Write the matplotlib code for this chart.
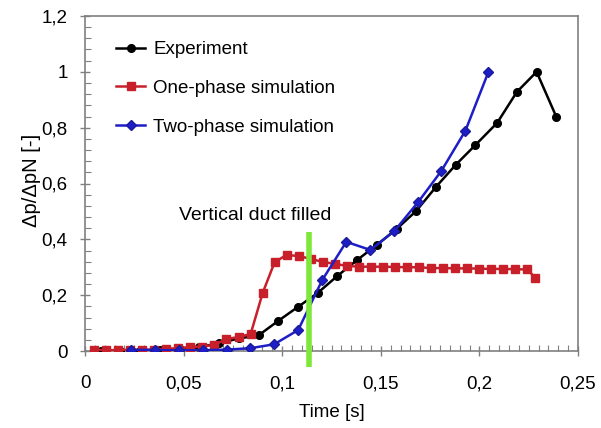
import matplotlib
matplotlib.use("Agg")
import matplotlib.pyplot as plt
from matplotlib.ticker import MultipleLocator

plt.rcParams['font.family'] = ['Liberation Sans', 'DejaVu Sans']

# ---- data ----
exp_t = [0.008, 0.018, 0.028, 0.038, 0.048, 0.058, 0.068, 0.078, 0.088, 0.098,
         0.108, 0.118, 0.128, 0.138, 0.148, 0.158, 0.168, 0.178, 0.188, 0.198,
         0.209, 0.219, 0.229, 0.239]
exp_p = [0.0, 0.0, 0.0, 0.003, 0.007, 0.014, 0.028, 0.045, 0.056, 0.108,
         0.158, 0.208, 0.269, 0.326, 0.38, 0.437, 0.502, 0.588, 0.667, 0.738,
         0.817, 0.928, 1.0, 0.839]

one_t = [0.0046, 0.0107, 0.0168, 0.0229, 0.029, 0.0351, 0.0412, 0.0473, 0.0534,
         0.0595, 0.0656, 0.0717, 0.0779, 0.084, 0.0901, 0.0962, 0.1023, 0.1084,
         0.1145, 0.1206, 0.1267, 0.1328, 0.1389, 0.145, 0.1511, 0.1572, 0.1633,
         0.1694, 0.1755, 0.1816, 0.1877, 0.1938, 0.1999, 0.206, 0.2121, 0.2182,
         0.2243, 0.2284]
one_p = [0.003, 0.003, 0.003, 0.004, 0.004, 0.005, 0.008, 0.01, 0.014,
         0.016, 0.022, 0.043, 0.05, 0.061, 0.208, 0.319, 0.344, 0.34,
         0.33, 0.319, 0.312, 0.305, 0.302, 0.302, 0.302, 0.301, 0.30,
         0.30, 0.297, 0.297, 0.296, 0.296, 0.295, 0.294, 0.294, 0.293,
         0.292, 0.262]

two_t = [0.0234, 0.0355, 0.0477, 0.0599, 0.0721, 0.0838, 0.0959, 0.1081,
         0.1203, 0.1325, 0.1447, 0.1569, 0.169, 0.1807, 0.1929, 0.2046]
two_p = [0.004, 0.004, 0.002, 0.003, 0.005, 0.01, 0.024, 0.075,
         0.254, 0.391, 0.362, 0.43, 0.534, 0.645, 0.789, 1.0]

series_names = ["Experiment", "One-phase simulation", "Two-phase simulation"]

fill_time = 0.1135          # vertical duct filled marker line
fill_line_y = (-0.057, 0.427)
note_text = "Vertical duct filled"
note_pos = (0.0865, 0.485)

x_ticks = [0, 0.05, 0.1, 0.15, 0.2, 0.25]
x_tick_labels = ["0", "0,05", "0,1", "0,15", "0,2", "0,25"]
y_ticks = [0, 0.2, 0.4, 0.6, 0.8, 1.0, 1.2]
y_tick_labels = ["0", "0,2", "0,4", "0,6", "0,8", "1", "1,2"]

# ---- figure ----
fig = plt.figure(figsize=(6.01, 4.28), dpi=100)
ax = fig.add_axes([85/601, 1-351/428, 493/601, 335/428])

ax.plot(exp_t, exp_p, color='black', lw=1.8, marker='o', ms=5.5,
        label=series_names[0], zorder=3)
ax.plot(one_t, one_p, color='#c8202a', lw=1.8, marker='s', ms=5.8,
        label=series_names[1], zorder=4)
ax.plot(two_t, two_p, color='#1e1ec8', lw=1.8, marker='D', ms=5,
        mec='#1a1a9a', label=series_names[2], zorder=5)

ax.plot([fill_time, fill_time], list(fill_line_y), color='#7ee83a', lw=4,
        clip_on=False, zorder=6, solid_capstyle='butt')
ax.text(note_pos[0], note_pos[1], note_text, fontsize=14, ha='center',
        va='center')

ax.set_xlim(0, 0.25)
ax.set_ylim(0, 1.2)
ax.set_xticks(x_ticks)
ax.set_xticklabels(x_tick_labels)
ax.set_yticks(y_ticks)
ax.set_yticklabels(y_tick_labels)
ax.xaxis.set_minor_locator(MultipleLocator(0.005))
ax.yaxis.set_minor_locator(MultipleLocator(0.04))

spine_col = '#808080'
for s in ax.spines.values():
    s.set_color(spine_col)
    s.set_linewidth(1.2)

ax.tick_params(which='major', direction='inout', length=7, width=1,
               color=spine_col, labelsize=13.5, labelcolor='black')
ax.tick_params(axis='x', which='major', pad=14)
ax.tick_params(axis='y', which='major', pad=9)
ax.tick_params(which='minor', direction='in', length=4, width=0.8,
               color=spine_col)

ax.set_xlabel("Time [s]", fontsize=13.5)
ax.xaxis.set_label_coords(0.5, -0.157)
ax.set_ylabel("\u0394p/\u0394pN [-]", fontsize=14.5)
ax.yaxis.set_label_coords(-0.09, 0.51)

ax.legend(loc='upper left', bbox_to_anchor=(0.063, 0.925), frameon=False,
          fontsize=13.5, handlelength=1.55, handletextpad=0.43,
          labelspacing=1.15, borderpad=0, borderaxespad=0, numpoints=1)

fig.savefig("out.png", dpi=100)
